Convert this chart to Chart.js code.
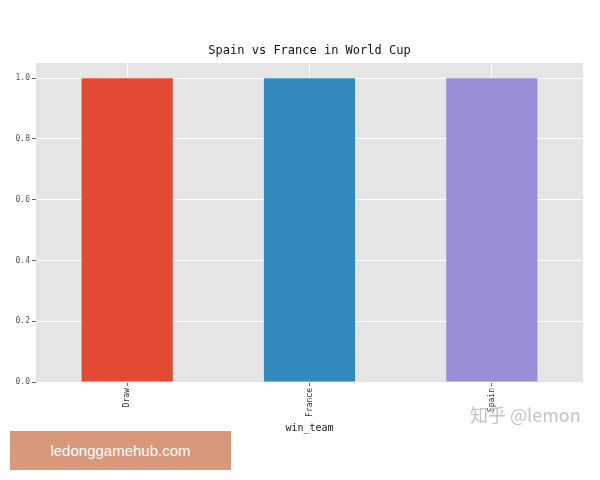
<!DOCTYPE html>
<html>
<head>
<meta charset="utf-8">
<script src="https://cdn.jsdelivr.net/npm/chart.js@4/dist/chart.umd.min.js"></script>
<style>
  body { margin: 0; background: #fff; }
  #wrap { position: relative; width: 600px; height: 480px; }
  #site {
    position: absolute; left: 10px; top: 431px; width: 221px; height: 39px;
    background: #d8987b; color: #fff; font: 15px "Liberation Sans", Arial, sans-serif;
    line-height: 39px; text-align: center;
  }
</style>
</head>
<body>
<div id="wrap">
  <canvas id="myChart" width="600" height="480"></canvas>
  <div id="site">ledonggamehub.com</div>
</div>
<script>
// datos de la grafica
const teams = ["Draw", "France", "Spain"]
const wins = [1.0, 1.0, 1.0]
const barColors = ["#e24a33", "#348abd", "#988ed5"]
const yTicks = [0, 0.2, 0.4, 0.6, 0.8, 1.0]

const mono = "'DejaVu Sans Mono', monospace"

// fondo gris y textos extra
const extras = {
  id: "extras",
  beforeDraw(chart) {
    const { ctx, chartArea: a } = chart
    ctx.save()
    ctx.fillStyle = "#e5e5e5"
    ctx.fillRect(a.left, a.top, a.right - a.left, a.bottom - a.top)
    ctx.restore()
  },
  afterDraw(chart) {
    const { ctx, chartArea: a } = chart
    ctx.save()
    ctx.fillStyle = "#111"
    ctx.textAlign = "center"
    ctx.textBaseline = "middle"
    ctx.font = "12px " + mono
    ctx.fillText("Spain vs France in World Cup", (a.left + a.right) / 2, 51)
    ctx.font = "10px " + mono
    ctx.fillStyle = "#222"
    ctx.fillText("win_team", (a.left + a.right) / 2, 428)
    ctx.font = "18px 'Noto Sans CJK SC', sans-serif"
    ctx.fillStyle = "#c4c4c4"
    ctx.textAlign = "left"
    ctx.fillText("知乎 @lemon", 470, 415)
    ctx.restore()
  }
}

const config = {
  type: "bar",
  data: {
    labels: teams,
    datasets: [{
      data: wins,
      backgroundColor: barColors,
      barPercentage: 0.5,
      categoryPercentage: 1.0
    }]
  },
  options: {
    responsive: false,
    animation: false,
    layout: { padding: { top: 63, right: 17, left: 0, bottom: 0 } },
    plugins: { legend: { display: false }, tooltip: { enabled: false } },
    scales: {
      x: {
        afterFit(scale) { scale.height = 98 },
        border: { display: false },
        grid: { color: "#ffffff", offset: false, tickColor: "#666", tickLength: 4, lineWidth: 1 },
        ticks: { color: "#333", font: { family: mono, size: 8 }, minRotation: 90, maxRotation: 90, padding: 2 }
      },
      y: {
        min: 0,
        max: 1.05,
        afterFit(scale) { scale.width = 36 },
        afterBuildTicks(scale) { scale.ticks = yTicks.map(v => ({ value: v })) },
        border: { display: false },
        grid: { color: "#ffffff", tickColor: "#666", tickLength: 4, lineWidth: 1 },
        ticks: { color: "#555", font: { family: mono, size: 8 }, padding: 2, callback: v => v.toFixed(1) }
      }
    }
  },
  plugins: [extras]
}

new Chart(document.getElementById("myChart"), config)
</script>
</body>
</html>
